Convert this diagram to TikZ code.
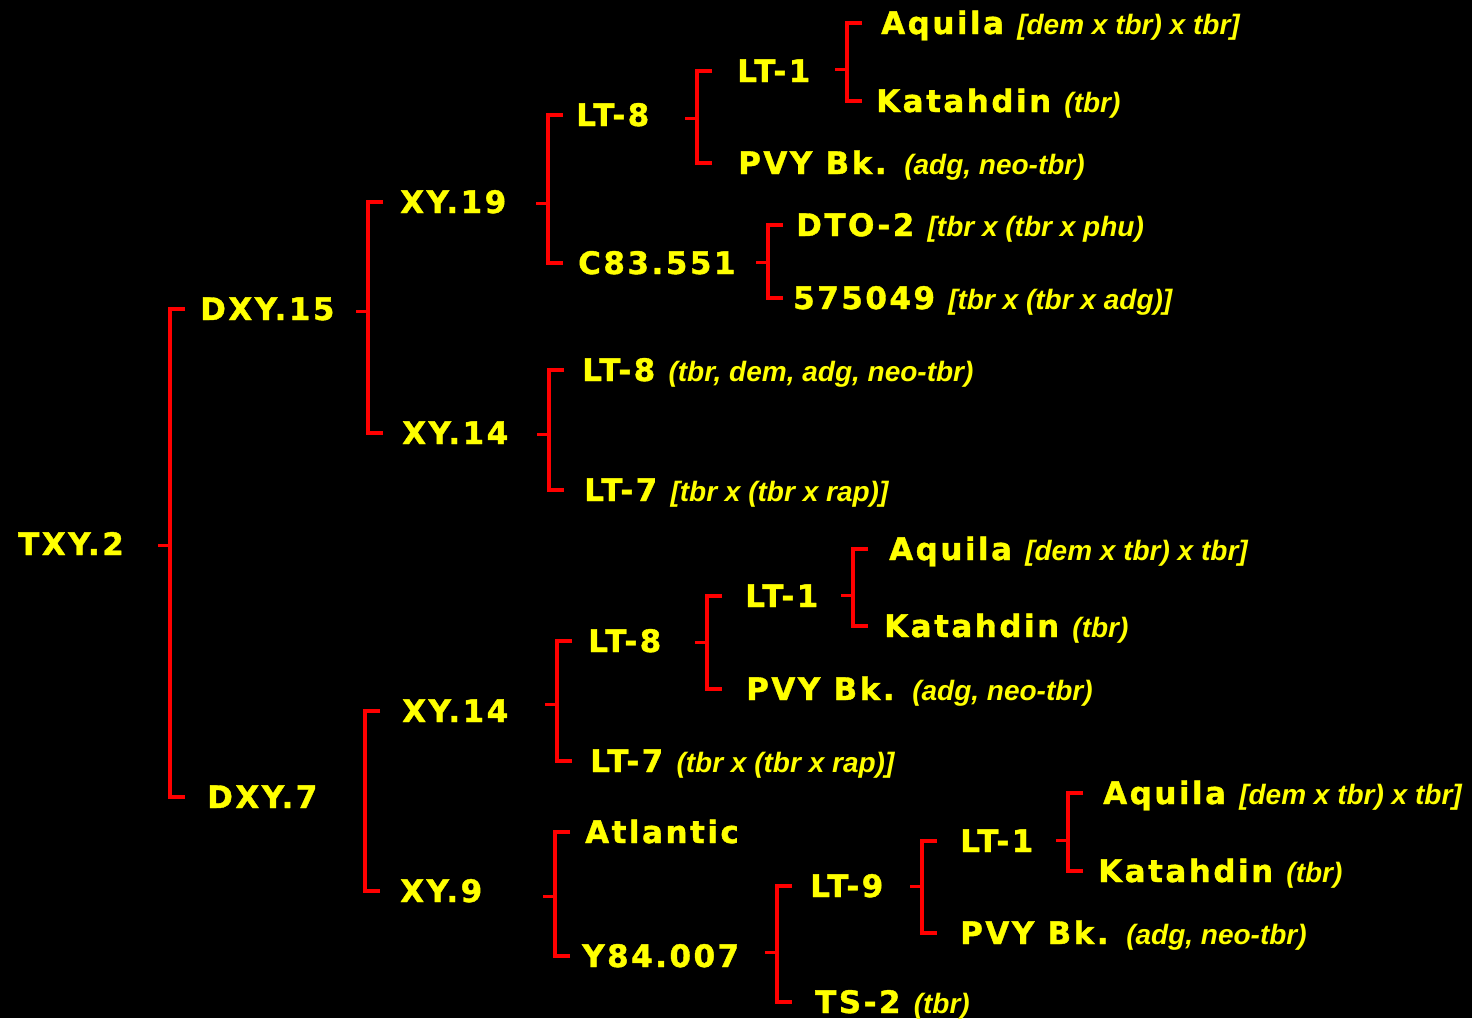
\documentclass[tikz,border=0pt]{standalone}
\usepackage{fontspec}
\usepackage{tikz}
\usetikzlibrary{calc}
\newfontfamily\clonefont[LetterSpace=8,FakeBold=1.2]{DejaVu Sans}
\newfontfamily\notefont{Liberation Sans}
\definecolor{clonegold}{RGB}{255,255,0}
\definecolor{linkred}{RGB}{255,0,0}
\newcommand{\pedigree}[1]{{\notefont\itshape\fontsize{28}{28}\selectfont #1}}

\begin{document}
\begin{tikzpicture}[
  x=1pt, y=-1pt,
  clone/.style={anchor=west, inner sep=0pt, text=clonegold,
    font=\clonefont\bfseries\fontsize{31}{31}\selectfont,
    text height=22pt, text depth=0pt},
  link/.style={draw=linkred, line width=4pt},
]
  \fill[black] (0,0) rectangle (1472,1018);
  \useasboundingbox (0,0) rectangle (1472,1018);

  % Root and first split
  \node[clone] (txy2) at (18,544) {TXY.2};
  \node[clone] (dxy15) at (200,309) {DXY.15};
  \node[clone] (dxy7) at (207,797) {DXY.7};

  % Upper half (DXY.15)
  \node[clone] (xy19) at (400,202) {XY.19};
  \node[clone] (xy14a) at (402,433) {XY.14};
  \node[clone] (lt8a) at (576,115) {LT-8};
  \node[clone] (c83) at (578,263) {C83.551};
  \node[clone] (lt1a) at (737,71) {LT-1};
  \node[clone] (pvya) at (738,163) {PVY Bk. \pedigree{(adg, neo-tbr)}};
  \node[clone] (aquilaa) at (881,23) {Aquila \pedigree{[dem x tbr) x tbr]}};
  \node[clone] (katahdina) at (876,101) {Katahdin \pedigree{(tbr)}};
  \node[clone] (dto2) at (796,225) {DTO-2 \pedigree{[tbr x (tbr x phu)}};
  \node[clone] (n575049) at (793,298) {575049 \pedigree{[tbr x (tbr x adg)]}};
  \node[clone] (lt8b) at (582,370) {LT-8 \pedigree{(tbr, dem, adg, neo-tbr)}};
  \node[clone] (lt7a) at (584,490) {LT-7 \pedigree{[tbr x (tbr x rap)]}};

  % Lower half (DXY.7)
  \node[clone] (xy14b) at (402,711) {XY.14};
  \node[clone] (xy9) at (400,891) {XY.9};
  \node[clone] (lt8c) at (588,641) {LT-8};
  \node[clone] (lt7b) at (590,761) {LT-7 \pedigree{(tbr x (tbr x rap)]}};
  \node[clone] (lt1b) at (745,596) {LT-1};
  \node[clone] (pvyb) at (746,689) {PVY Bk. \pedigree{(adg, neo-tbr)}};
  \node[clone] (aquilab) at (889,549) {Aquila \pedigree{[dem x tbr) x tbr]}};
  \node[clone] (katahdinb) at (884,626) {Katahdin \pedigree{(tbr)}};
  \node[clone] (atlantic) at (585,832) {Atlantic};
  \node[clone] (y84) at (582,956) {Y84.007};
  \node[clone] (lt9) at (810,886) {LT-9};
  \node[clone] (ts2) at (815,1002) {TS-2 \pedigree{(tbr)}};
  \node[clone] (lt1c) at (960,841) {LT-1};
  \node[clone] (pvyc) at (960,933) {PVY Bk. \pedigree{(adg, neo-tbr)}};
  \node[clone] (aquilac) at (1103,793) {Aquila \pedigree{[dem x tbr) x tbr]}};
  \node[clone] (katahdinc) at (1098,871) {Katahdin \pedigree{(tbr)}};

  % Bracket spines
  \coordinate (s1) at (170,545);
  \coordinate (s2) at (368,311);
  \coordinate (s3) at (548,203);
  \coordinate (s4) at (697,118);
  \coordinate (s5) at (847,69);
  \coordinate (s6) at (768,262);
  \coordinate (s7) at (549,434);
  \coordinate (s8) at (365,800);
  \coordinate (s9) at (557,704);
  \coordinate (s10) at (707,642);
  \coordinate (s11) at (853,595);
  \coordinate (s12) at (555,896);
  \coordinate (s13) at (777,952);
  \coordinate (s14) at (922,886);
  \coordinate (s15) at (1068,840);

  \foreach \s/\a/\b in {s1/dxy15/dxy7, s2/xy19/xy14a, s3/lt8a/c83,
      s4/lt1a/pvya, s5/aquilaa/katahdina, s6/dto2/n575049, s7/lt8b/lt7a,
      s8/xy14b/xy9, s9/lt8c/lt7b, s10/lt1b/pvyb, s11/aquilab/katahdinb,
      s12/atlantic/y84, s13/lt9/ts2, s14/lt1c/pvyc, s15/aquilac/katahdinc}
    \draw[link] (\s |- \a.west) ++(15,0) -- (\s |- \a.west)
      -- (\s |- \b.west) -- ++(15,0);

  % Stubs towards the parents
  \foreach \s in {s1,s2,s3,s4,s5,s6,s7,s9,s10,s11,s12,s13,s14,s15}
    \draw[link, line width=3pt] (\s) -- ++(-12,0);
\end{tikzpicture}
\end{document}
